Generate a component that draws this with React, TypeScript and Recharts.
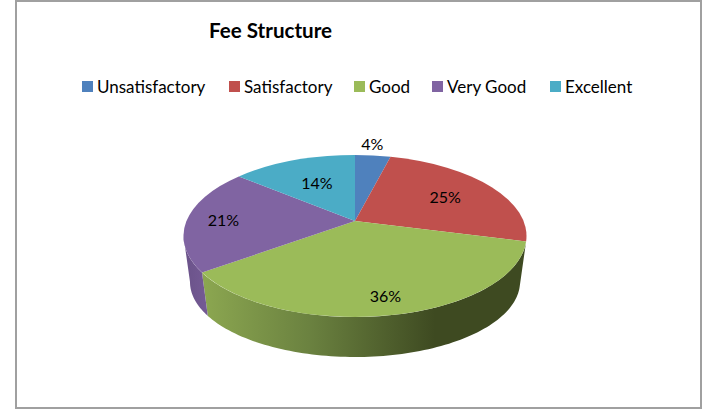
import React from "react";
import { PieChart, Pie, Cell, Legend } from "recharts";

const categories = ["Unsatisfactory", "Satisfactory", "Good", "Very Good", "Excellent"];
const percents = [4, 25, 36, 21, 14];

const colors = ["#4f81bd", "#c0504d", "#9bbb59", "#8064a2", "#4bacc6"];
const wallFills = ["#4f81bd", "#c0504d", "url(#wallGreen)", "url(#wallPurple)", "#4bacc6"];
const legendLeft = [82, 229, 354, 432, 550];
const labelRadius = [1.23, 0.66, 0.82, 0.785, 0.6];
const FONT = "Lato, 'Open Sans', sans-serif";

const tableData = categories.map((name, i) => ({ name, value: percents[i] }));

const CX = 355;
const CY = 236;
const RX = 171.5;
const RY = 81;
const TILT = 0.185;
const BOTTOM_CY = 282;
const BOTTOM_RX = 165;
const BOTTOM_RY = 75;

// Perspective mapping of a point of the flat pie (unit disc, recharts degrees) onto the tilted ellipse.
function project(deg: number, r = 1) {
  const rad = (deg * Math.PI) / 180;
  const X = r * Math.cos(rad);
  const Y = r * Math.sin(rad);
  const w = 1 + TILT * Y;
  const s = Math.sqrt(1 - TILT * TILT);
  return { x: CX + (RX * s * X) / w, y: CY - (RY * (Y + TILT)) / w };
}

function screenParam(p: { x: number; y: number }) {
  const a = Math.atan2((p.y - CY) / RY, (p.x - CX) / RX);
  return a < 0 ? a + 2 * Math.PI : a;
}

function TopSlice(props: any) {
  const { startAngle, endAngle, fill } = props;
  const a = project(startAngle);
  const b = project(endAngle);
  const apex = project(0, 0);
  let d = screenParam(b) - screenParam(a);
  if (d < 0) d += 2 * Math.PI;
  const large = d > Math.PI ? 1 : 0;
  const path = `M${apex.x},${apex.y}L${a.x},${a.y}A${RX},${RY} 0 ${large} 1 ${b.x},${b.y}Z`;
  return <path d={path} fill={fill} stroke="none" />;
}

function WallSlice(props: any) {
  const { startAngle, endAngle, fill } = props;
  const a = project(startAngle);
  const b = project(endAngle);
  let from = screenParam(a);
  let to = screenParam(b);
  if (to < from) to += 2 * Math.PI;
  const lo = Math.max(from, 0);
  const hi = Math.min(to, Math.PI);
  if (hi <= lo) return <g />;
  const steps = 90;
  const top: string[] = [];
  const bottom: string[] = [];
  for (let i = 0; i <= steps; i++) {
    const t = lo + ((hi - lo) * i) / steps;
    top.push(`${CX + RX * Math.cos(t)},${CY + RY * Math.sin(t)}`);
    bottom.unshift(`${CX + BOTTOM_RX * Math.cos(t)},${BOTTOM_CY + BOTTOM_RY * Math.sin(t)}`);
  }
  return <path d={`M${top.join("L")}L${bottom.join("L")}Z`} fill={fill} stroke="none" />;
}

function renderLabel(props: any) {
  const { midAngle, index, value } = props;
  const p = project(midAngle, labelRadius[index]);
  const dx = index === 0 ? -4 : index === 4 ? 1 : 0;
  return (
    <text
      x={p.x + dx}
      y={p.y}
      textAnchor="middle"
      dominantBaseline="central"
      fontFamily={FONT}
      fontSize={16}
      fill="#000"
    >
      {value}%
    </text>
  );
}

function renderLegend(props: any) {
  const seen = new Set<string>();
  const items = (props.payload ?? []).filter((item: any) => {
    if (!colors.includes(item.color) || seen.has(item.value)) return false;
    seen.add(item.value);
    return true;
  });
  return (
    <div style={{ position: "relative", width: 703, height: 0 }}>
      {items.map((item: any) => (
        <div
          key={item.value}
          style={{
            position: "absolute",
            left: legendLeft[categories.indexOf(item.value)],
            top: 76,
            display: "flex",
            alignItems: "center",
            whiteSpace: "nowrap",
            height: 20,
            fontFamily: FONT,
            fontSize: 17,
            color: "#000",
          }}
        >
          <span
            style={{
              display: "inline-block",
              width: 11,
              height: 11,
              background: item.color,
              marginRight: 4,
            }}
          />
          {item.value}
        </div>
      ))}
    </div>
  );
}

export default function App() {
  return (
    <div style={{ position: "absolute", left: 0, top: 0, width: 703, height: 416, background: "#fff" }}>
      <div
        style={{
          position: "absolute",
          left: 15,
          top: 0,
          width: 683,
          height: 405,
          border: "2px solid #a0a0a0",
        }}
      />
      <div
        style={{
          position: "absolute",
          left: 209,
          top: 18,
          fontFamily: FONT,
          fontWeight: 700,
          fontSize: 20.6,
          lineHeight: "24px",
          color: "#000",
          whiteSpace: "nowrap",
        }}
      >
        Fee Structure
      </div>
      <div style={{ position: "absolute", left: 0, top: 0 }}>
        <PieChart width={703} height={416} margin={{ top: 0, right: 0, bottom: 0, left: 0 }}>
          <defs>
            <linearGradient id="wallGreen" gradientUnits="userSpaceOnUse" x1={205} y1={0} x2={435} y2={0}>
              <stop offset="0%" stopColor="#8ba650" />
              <stop offset="45%" stopColor="#6b8240" />
              <stop offset="100%" stopColor="#3e4a21" />
            </linearGradient>
            <linearGradient id="wallPurple" gradientUnits="userSpaceOnUse" x1={184} y1={0} x2={206} y2={0}>
              <stop offset="0%" stopColor="#6a5289" />
              <stop offset="100%" stopColor="#745a94" />
            </linearGradient>
          </defs>
          <Pie
            data={tableData}
            dataKey="value"
            nameKey="name"
            cx={CX}
            cy={CY}
            outerRadius={RX}
            startAngle={90}
            endAngle={-270}
            isAnimationActive={false}
            legendType="none"
            shape={WallSlice}
            label={false}
            labelLine={false}
            stroke="none"
          >
            {tableData.map((d, i) => (
              <Cell key={d.name} fill={wallFills[i]} />
            ))}
          </Pie>
          <Pie
            data={tableData}
            dataKey="value"
            nameKey="name"
            cx={CX}
            cy={CY}
            outerRadius={RX}
            startAngle={90}
            endAngle={-270}
            isAnimationActive={false}
            shape={TopSlice}
            label={renderLabel}
            labelLine={false}
            stroke="none"
          >
            {tableData.map((d, i) => (
              <Cell key={d.name} fill={colors[i]} />
            ))}
          </Pie>
          <Legend content={renderLegend} itemSorter={null} wrapperStyle={{ left: 0, top: 0, width: 703, height: 0 }} />
        </PieChart>
      </div>
    </div>
  );
}
